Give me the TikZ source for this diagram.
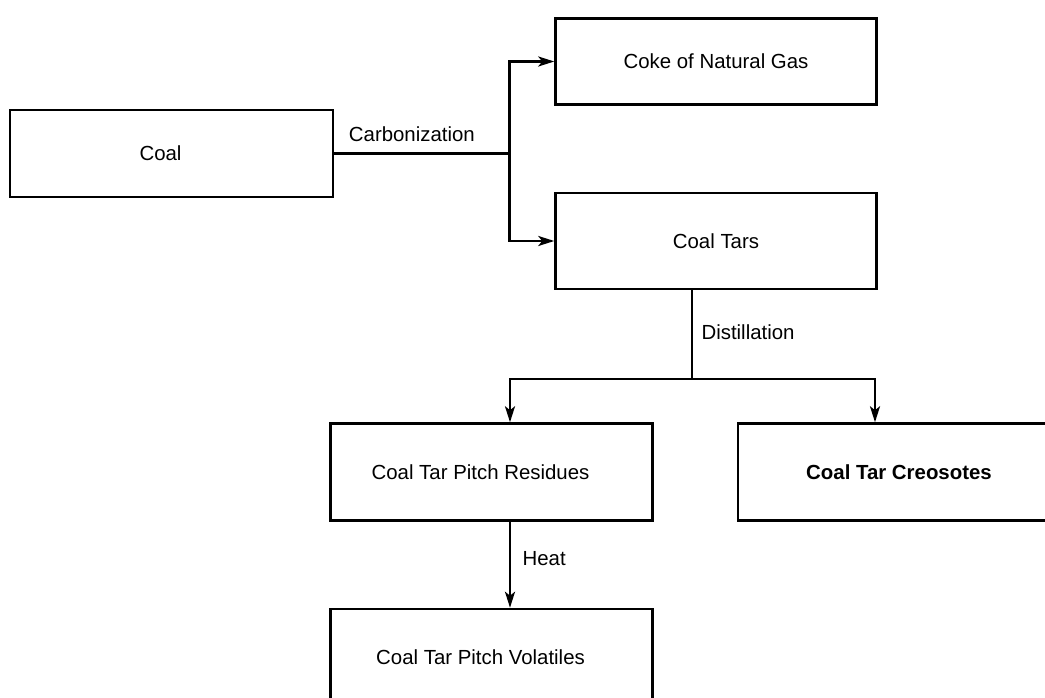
\documentclass[tikz,border=0pt]{standalone}
\usepackage{fontspec}
\setmainfont{Liberation Sans}
\usetikzlibrary{positioning,arrows.meta}

\tikzset{
    stage/.style={draw, rectangle, line width=2.5pt, minimum width=322pt, minimum height=97pt, inner sep=0pt},
    shiftleft/.style={execute at end node={\hspace{22pt}}},
    flow/.style={line width=2.5pt},
    arr/.style={flow, -{Stealth[length=16pt, width=10pt, inset=4pt]}}
}

\begin{document}
\begin{tikzpicture}[x=1pt, y=1pt, every node/.style={font=\fontsize{20.4}{24}\selectfont}]
    \clip (0,0) rectangle (1045,-698);

    % Nodes
    \node[stage, shiftleft, minimum width=323pt, minimum height=87pt] (coal) at (171.5,-153.5) {Coal};
    \node[stage, right=220pt of coal, yshift=92pt, minimum width=321pt, minimum height=86pt] (coke) {Coke of Natural Gas};
    \node[stage, below=86pt of coke, minimum width=321pt, minimum height=96pt] (tars) {Coal Tars};
    \node[stage, shiftleft, below=132pt of tars, xshift=-224.5pt] (residues) {Coal Tar Pitch Residues};
    \node[stage, right=83pt of residues] (creosotes) {\bfseries Coal Tar Creosotes};
    \node[stage, shiftleft, below=86pt of residues] (volatiles) {Coal Tar Pitch Volatiles};

    % Branch points
    \coordinate (split1) at (509.5,-153.5);
    \coordinate (split2) at (692,-379);

    % Arrows
    \draw[flow] (coal.east) -- node[above, xshift=-10pt, yshift=7.5pt] {Carbonization} (split1);
    \draw[arr] (split1) |- (coke.west);
    \draw[arr] (split1) |- (tars.west);
    \draw[flow] (split2 |- tars.south) -- node[right, xshift=5pt, yshift=2.5pt] {Distillation} (split2);
    \draw[arr] (split2) -| ([xshift=18.5pt]residues.north);
    \draw[arr] (split2) -| ([xshift=-24pt]creosotes.north);
    \draw[arr] ([xshift=18.5pt]residues.south) -- node[right, xshift=8pt, yshift=6.5pt] {Heat} ([xshift=18.5pt]volatiles.north);
\end{tikzpicture}
\end{document}
